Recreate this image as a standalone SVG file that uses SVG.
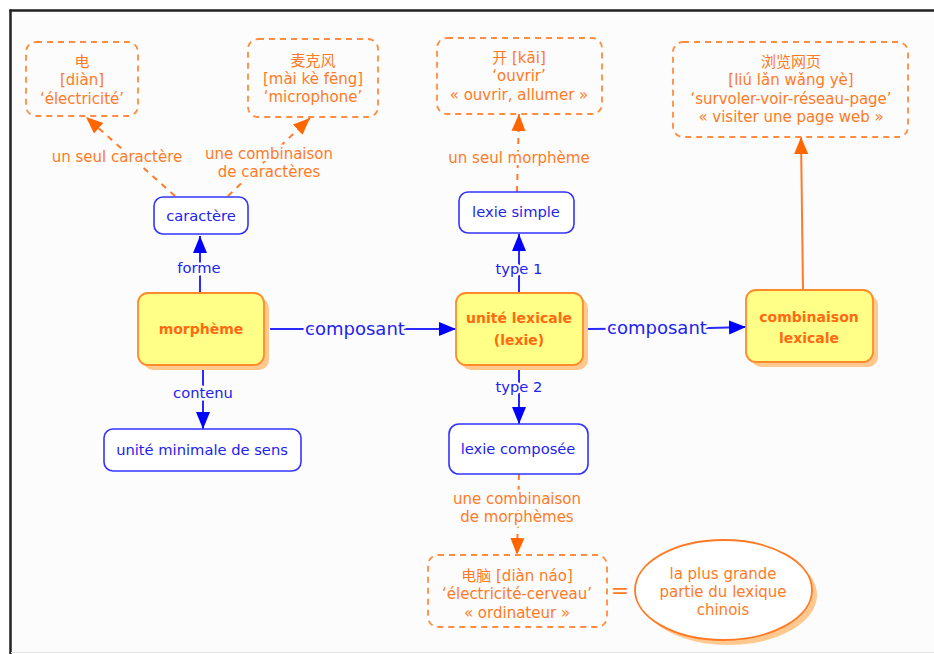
<svg xmlns="http://www.w3.org/2000/svg" width="934" height="654" viewBox="0 0 934 654">
<defs>
<style>
text{font-family:"DejaVu Sans","Noto Sans CJK SC",sans-serif;text-anchor:middle}
.bl{fill:#2222ee;font-size:14.7px}
.or{fill:#ff7a26;font-size:15px}
.bo{fill:#ff6a10;font-size:14px;font-weight:bold}
.lab{paint-order:stroke;stroke:#fcfcfc;stroke-width:5px;stroke-linejoin:round}
.bbox{fill:#ffffff;stroke:#3333ff;stroke-width:1.6}
.ybox{fill:#ffff88;stroke:#ff8a2a;stroke-width:1.8}
.shadow{fill:#ffc88e}
.dbox{fill:none;stroke:#ff8c40;stroke-width:1.8;stroke-dasharray:6 5}
.bline{stroke:#2a2aff;stroke-width:2;fill:none}
.oline{stroke:#ff7a2a;stroke-width:2;fill:none}
.dline{stroke:#ff7a2a;stroke-width:2;fill:none;stroke-dasharray:6 6}
</style>
<marker id="ab" markerUnits="userSpaceOnUse" markerWidth="18" markerHeight="16" refX="17" refY="8" orient="auto" viewBox="0 0 18 16">
<path d="M0,1 L17,8 L0,15 z" fill="#0000ff"/>
</marker>
<marker id="ao" markerUnits="userSpaceOnUse" markerWidth="18" markerHeight="16" refX="17" refY="8" orient="auto" viewBox="0 0 18 16">
<path d="M0,1 L17,8 L0,15 z" fill="#ff6600"/>
</marker>
</defs>
<rect x="0" y="0" width="934" height="654" fill="#ffffff"/>
<rect x="11" y="11" width="930" height="641" fill="#fcfcfc"/>
<line x1="9.5" y1="10.5" x2="934" y2="10.5" stroke="#222" stroke-width="2.5"/>
<line x1="10.5" y1="9.5" x2="10.5" y2="654" stroke="#222" stroke-width="2.5"/>
<line x1="11" y1="652.5" x2="934" y2="652.5" stroke="#e4e4e4" stroke-width="1"/>

<g id="connectors">
<line class="bline" x1="200" y1="293" x2="200" y2="236" marker-end="url(#ab)"/>
<text class="bl lab" x="199" y="273">forme</text>
<line class="bline" x1="203" y1="365" x2="203" y2="429" marker-end="url(#ab)"/>
<text class="bl lab" x="203" y="398">contenu</text>
<line class="bline" x1="270" y1="329" x2="456" y2="329" marker-end="url(#ab)"/>
<text class="lab" x="355" y="335" style="fill:#2222ee;font-size:18px">composant</text>
<line class="bline" x1="519" y1="293" x2="519" y2="234" marker-end="url(#ab)"/>
<text class="bl lab" x="519" y="274">type 1</text>
<line class="bline" x1="519" y1="365" x2="519" y2="424" marker-end="url(#ab)"/>
<text class="bl lab" x="519" y="392">type 2</text>
<path class="bline" d="M588,329 L710,328 L746,327" marker-end="url(#ab)"/>
<text class="lab" x="657" y="334" style="fill:#2222ee;font-size:18px">composant</text>
<line class="dline" x1="175" y1="196" x2="86" y2="117" marker-end="url(#ao)"/>
<text class="or lab" x="117" y="162">un seul caractère</text>
<line class="dline" x1="228" y1="196" x2="310" y2="118" marker-end="url(#ao)"/>
<text class="or lab" x="269" y="159">une combinaison</text>
<text class="or lab" x="269" y="177">de caractères</text>
<line class="dline" x1="517" y1="192" x2="519" y2="114" marker-end="url(#ao)"/>
<text class="or lab" x="519" y="163">un seul morphème</text>
<line class="oline" x1="803" y1="290" x2="801" y2="137" marker-end="url(#ao)"/>
<line class="dline" x1="519" y1="474" x2="517" y2="555" marker-end="url(#ao)"/>
<text class="or lab" x="517" y="504">une combinaison</text>
<text class="or lab" x="517" y="522">de morphèmes</text>
<text x="620" y="598" style="fill:#ff7a26;font-size:22px">=</text>
</g>

<g id="caractere">
<rect class="bbox" x="154" y="197" width="94" height="37" rx="9"/>
<text class="bl" x="201" y="221">caractère</text>
</g>
<g id="morpheme">
<rect class="shadow" x="143" y="298" width="126" height="72" rx="10"/>
<rect class="ybox" x="138" y="293" width="126" height="72" rx="10"/>
<text class="bo" x="201" y="334">morphème</text>
</g>
<g id="unite-lexicale">
<rect class="shadow" x="461" y="298" width="127" height="72" rx="10"/>
<rect class="ybox" x="456" y="293" width="127" height="72" rx="10"/>
<text class="bo" x="519" y="323">unité lexicale</text>
<text class="bo" x="519" y="345">(lexie)</text>
</g>
<g id="combinaison-lexicale">
<rect class="shadow" x="751" y="295" width="127" height="72" rx="10"/>
<rect class="ybox" x="746" y="290" width="127" height="72" rx="10"/>
<text class="bo" x="809" y="322">combinaison</text>
<text class="bo" x="809" y="343">lexicale</text>
</g>
<g id="lexie-simple">
<rect class="bbox" x="459" y="192" width="115" height="41" rx="9"/>
<text class="bl" x="516" y="217">lexie simple</text>
</g>
<g id="unite-minimale">
<rect class="bbox" x="104" y="429" width="197" height="42" rx="9"/>
<text class="bl" x="202" y="455">unité minimale de sens</text>
</g>
<g id="lexie-composee">
<rect class="bbox" x="449" y="424" width="139" height="50" rx="10"/>
<text class="bl" x="518" y="454">lexie composée</text>
</g>
<g id="dian">
<rect class="dbox" x="26" y="42" width="112" height="74" rx="10"/>
<text class="or" x="82" y="67">电</text>
<text class="or" x="82" y="85">[diàn]</text>
<text class="or" x="82" y="104">‘électricité’</text>
</g>
<g id="maikefeng">
<rect class="dbox" x="248" y="39" width="130" height="78" rx="10"/>
<text class="or" x="313" y="66">麦克风</text>
<text class="or" x="313" y="84">[mài kè fēng]</text>
<text class="or" x="313" y="102">‘microphone’</text>
</g>
<g id="kai">
<rect class="dbox" x="437" y="38" width="165" height="76" rx="10"/>
<text class="or" x="519" y="63">开 [kāi]</text>
<text class="or" x="519" y="81">‘ouvrir’</text>
<text class="or" x="519" y="100">« ouvrir, allumer »</text>
</g>
<g id="liulanwangye">
<rect class="dbox" x="673" y="42" width="235" height="95" rx="10"/>
<text class="or" x="791" y="67">浏览网页</text>
<text class="or" x="791" y="85">[liú lǎn wǎng yè]</text>
<text class="or" x="791" y="104">‘survoler-voir-réseau-page’</text>
<text class="or" x="791" y="122">« visiter une page web »</text>
</g>
<g id="diannao">
<rect class="dbox" x="428" y="555" width="179" height="72" rx="10"/>
<text class="or" x="517" y="581">电脑 [diàn náo]</text>
<text class="or" x="517" y="599">‘électricité-cerveau’</text>
<text class="or" x="517" y="618">« ordinateur »</text>
</g>
<g id="lexique">
<ellipse cx="728.5" cy="595" rx="88.5" ry="50" fill="#ffc88e"/>
<ellipse cx="723.5" cy="590" rx="88.5" ry="50" fill="#ffffff" stroke="#ff7a26" stroke-width="1.8"/>
<text class="or" x="723" y="579">la plus grande</text>
<text class="or" x="723" y="597">partie du lexique</text>
<text class="or" x="723" y="615">chinois</text>
</g>
</svg>
